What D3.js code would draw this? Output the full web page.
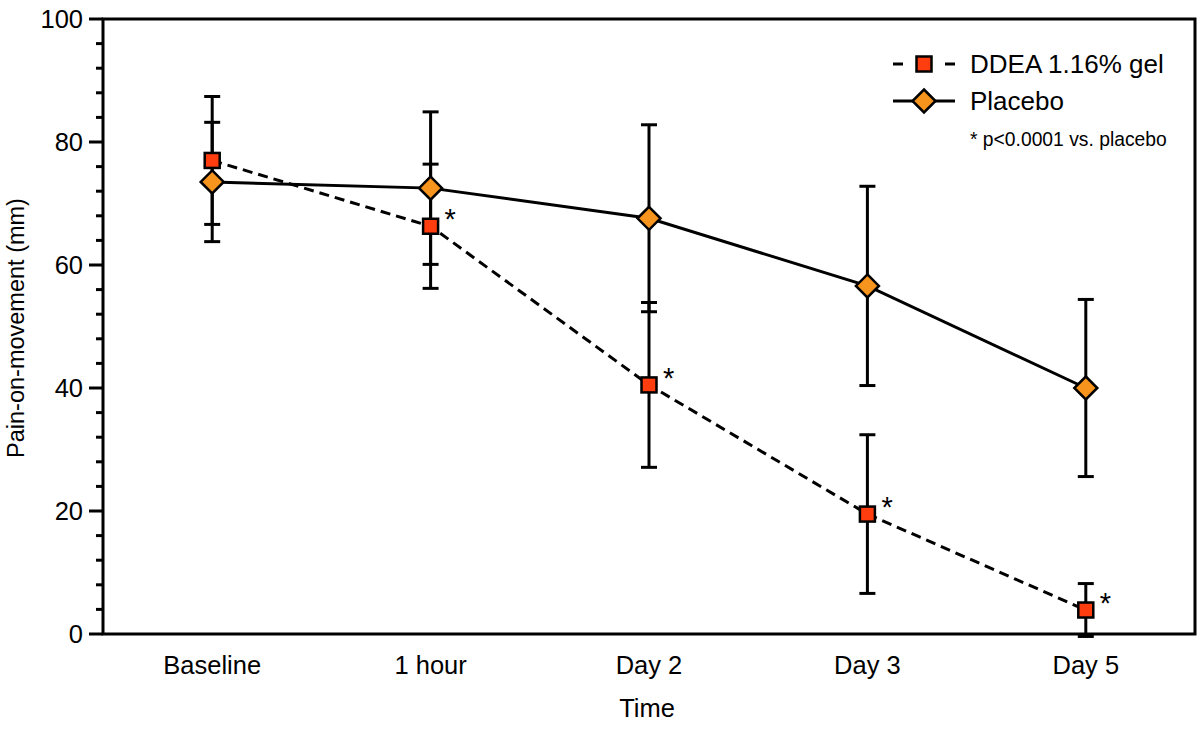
<!DOCTYPE html>
<html>
<head>
<meta charset="utf-8">
<script src="https://cdn.jsdelivr.net/npm/d3@7"></script>
<style>
  body { margin: 0; background: #fff; }
  svg text { font-family: "Liberation Sans", Arial, sans-serif; fill: #000; }
</style>
</head>
<body>
<div id="plot"></div>
<script>
// data
var timepoints = ['Baseline', '1 hour', 'Day 2', 'Day 3', 'Day 5'];
var ddeaMean = [77.0, 66.3, 40.5, 19.5, 3.9];
var ddeaSd = [10.4, 10.1, 13.4, 12.9, 4.3];
var placeboMean = [73.5, 72.5, 67.6, 56.6, 40.0];
var placeboSd = [9.7, 12.4, 15.2, 16.2, 14.4];
var significant = [false, true, true, true, true];
var yTicks = [0, 20, 40, 60, 80, 100];

var W = 1200, H = 732;
var margin = {t:19, r:5, b:98, l:103};
var width = W - margin.l - margin.r,
	height = H - margin.t - margin.b;

var svg = d3.select('#plot')
	.append('svg')
	.attr('width', W)
	.attr('height', H);

var plot = svg.append('g')
	.attr('transform', 'translate(' + margin.l + ',' + margin.t + ')');

var x = d3.scalePoint().domain(timepoints).range([0, width]).padding(0.5);
var y = d3.scaleLinear().domain([0, 100]).range([height, 0]);

var ddeaColor = '#ff3d0f', placeboColor = '#f7941d';

// frame
plot.append('rect')
	.attr('x', 0).attr('y', 0)
	.attr('width', width).attr('height', height)
	.style('fill', 'none').style('stroke', '#000').style('stroke-width', 3);

// y axis ticks: minor every 4, major every 20
var minor = d3.range(0, 101, 4).filter(function(v){ return v % 20 !== 0; });
plot.selectAll('.minor').data(minor).enter().append('line')
	.attr('x1', -7).attr('x2', 0)
	.attr('y1', function(d){ return y(d); }).attr('y2', function(d){ return y(d); })
	.style('stroke', '#000').style('stroke-width', 3);
plot.selectAll('.major').data(yTicks).enter().append('line')
	.attr('x1', -14).attr('x2', 0)
	.attr('y1', function(d){ return y(d); }).attr('y2', function(d){ return y(d); })
	.style('stroke', '#000').style('stroke-width', 3);
plot.selectAll('.ylab').data(yTicks).enter().append('text')
	.attr('x', -20)
	.attr('y', function(d){ return y(d); })
	.attr('dy', '0.36em')
	.attr('text-anchor', 'end')
	.style('font-size', '25.5px')
	.text(function(d){ return d; });

// x labels
plot.selectAll('.xlab').data(timepoints).enter().append('text')
	.attr('x', function(d){ return x(d); })
	.attr('y', height + 40)
	.attr('text-anchor', 'middle')
	.style('font-size', '25.5px')
	.text(function(d){ return d; });

svg.append('text')
	.attr('x', margin.l + width / 2 - 2)
	.attr('y', 717)
	.attr('text-anchor', 'middle')
	.style('font-size', '25.5px')
	.text('Time');

svg.append('text')
	.attr('transform', 'translate(24,328) rotate(-90)')
	.attr('text-anchor', 'middle')
	.style('font-size', '23.5px')
	.text('Pain-on-movement (mm)');

// error bars
function errorBars(means, sds) {
	var g = plot.append('g');
	means.forEach(function(m, i) {
		var cx = x(timepoints[i]);
		var lo = m - sds[i], hi = m + sds[i];
		g.append('line')
			.attr('x1', cx).attr('x2', cx)
			.attr('y1', y(lo)).attr('y2', y(hi))
			.style('stroke', '#000').style('stroke-width', 3);
		[lo, hi].forEach(function(v) {
			g.append('line')
				.attr('x1', cx - 8).attr('x2', cx + 8)
				.attr('y1', y(v)).attr('y2', y(v))
				.style('stroke', '#000').style('stroke-width', 3);
		});
	});
}
errorBars(placeboMean, placeboSd);
errorBars(ddeaMean, ddeaSd);

var line = d3.line()
	.x(function(d, i){ return x(timepoints[i]); })
	.y(function(d){ return y(d); });

plot.append('path').datum(placeboMean)
	.attr('d', line)
	.style('fill', 'none').style('stroke', '#000').style('stroke-width', 3);
plot.append('path').datum(ddeaMean)
	.attr('d', line)
	.style('fill', 'none').style('stroke', '#000').style('stroke-width', 3)
	.style('stroke-dasharray', '10,6');

function diamond(g, cx, cy) {
	g.append('path')
		.attr('d', 'M' + cx + ',' + (cy - 11.5) + 'L' + (cx + 11.5) + ',' + cy +
			'L' + cx + ',' + (cy + 11.5) + 'L' + (cx - 11.5) + ',' + cy + 'Z')
		.style('fill', placeboColor).style('stroke', '#000').style('stroke-width', 2.5)
		.style('stroke-linejoin', 'miter');
}
function square(g, cx, cy) {
	g.append('rect')
		.attr('x', cx - 7.5).attr('y', cy - 7.5)
		.attr('width', 15).attr('height', 15)
		.style('fill', ddeaColor).style('stroke', '#000').style('stroke-width', 2.5);
}

placeboMean.forEach(function(m, i){ diamond(plot, x(timepoints[i]), y(m)); });
ddeaMean.forEach(function(m, i){
	square(plot, x(timepoints[i]), y(m));
	if (significant[i]) {
		plot.append('text')
			.attr('x', x(timepoints[i]) + 14)
			.attr('y', y(m) + 3)
			.style('font-size', '29px')
			.text('*');
	}
});

// legend
var lg = svg.append('g');
lg.append('line').attr('x1', 893).attr('x2', 903).attr('y1', 64).attr('y2', 64)
	.style('stroke', '#000').style('stroke-width', 3);
lg.append('line').attr('x1', 945).attr('x2', 955).attr('y1', 64).attr('y2', 64)
	.style('stroke', '#000').style('stroke-width', 3);
square(lg, 924, 64);
lg.append('line').attr('x1', 893).attr('x2', 955).attr('y1', 101).attr('y2', 101)
	.style('stroke', '#000').style('stroke-width', 3);
diamond(lg, 924, 101);
lg.append('text').attr('x', 970).attr('y', 64).attr('dy', '0.36em')
	.style('font-size', '26px').text('DDEA 1.16% gel');
lg.append('text').attr('x', 970).attr('y', 101).attr('dy', '0.36em')
	.style('font-size', '26px').text('Placebo');
lg.append('text').attr('x', 970).attr('y', 139).attr('dy', '0.36em')
	.style('font-size', '19.3px').text('* p<0.0001 vs. placebo');
</script>
</body>
</html>
